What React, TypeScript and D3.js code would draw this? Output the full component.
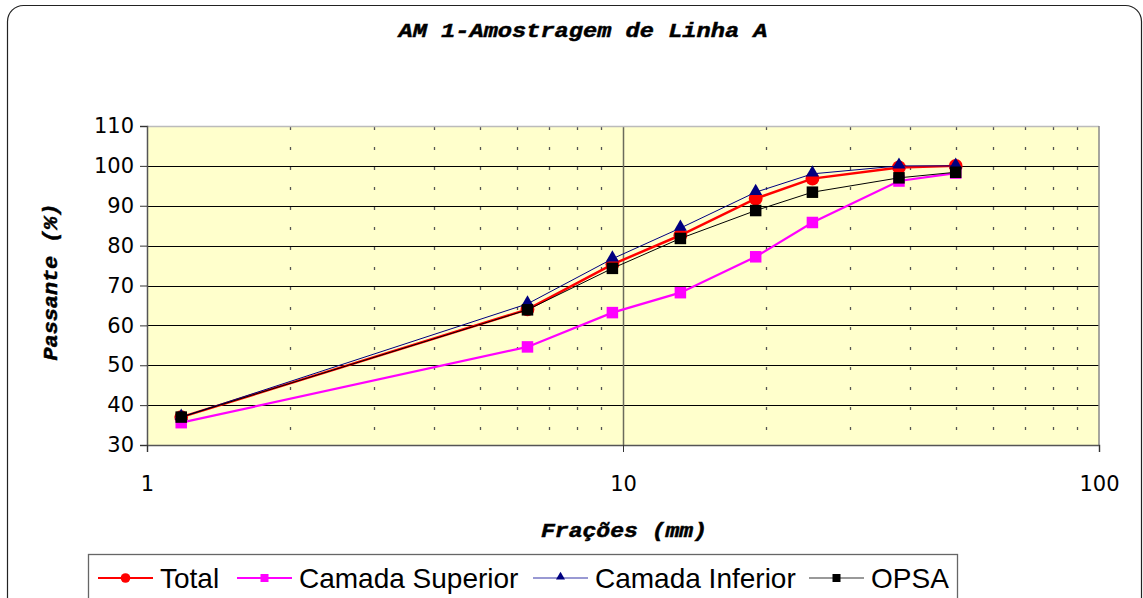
import { useEffect, useRef } from "react";
import * as d3 from "d3";

// Aberturas das peneiras (mm)
const sizes = [1.18, 6.3, 9.5, 13.2, 19, 25, 38, 50];

const total = [37, 64, 75.3, 82.6, 91.8, 96.8, 99.6, 100];
const superior = [35.6, 54.6, 63.2, 68.2, 77.2, 85.8, 96.2, 98.2];
const inferior = [37, 65.4, 76.7, 84.4, 93.4, 98, 100, 100];
const opsa = [37, 63.9, 74.3, 81.8, 88.8, 93.4, 97, 98.4];

const seriesNames = ["Total", "Camada Superior", "Camada Inferior", "OPSA"];
const yTicks = [30, 40, 50, 60, 70, 80, 90, 100, 110];
const xTicks = [1, 10, 100];
const minorTicks = [2, 3, 4, 5, 6, 7, 8, 9, 20, 30, 40, 50, 60, 70, 80, 90];

const W = 1143;
const H = 598;

export default function App() {
  const svgRef = useRef<SVGSVGElement | null>(null);

  useEffect(() => {
    const svg = d3.select(svgRef.current);
    svg.selectAll("*").remove();

    const x = d3.scaleLog().domain([1, 100]).range([147, 1099]);
    const y = d3.scaleLinear().domain([30, 110]).range([445, 126]);

    const sans = "'Liberation Sans', Arial, sans-serif";
    const tickFont = "'DejaVu Sans', Verdana, sans-serif";
    const mono = "'Liberation Mono', 'Courier New', monospace";

    svg.append("rect").attr("width", W).attr("height", H).attr("fill", "#fff");

    // moldura arredondada
    svg
      .append("rect")
      .attr("x", 7.5)
      .attr("y", 5.5)
      .attr("width", 1134)
      .attr("height", 620)
      .attr("rx", 16)
      .attr("fill", "none")
      .attr("stroke", "#222")
      .attr("stroke-width", 1.2);

    // título
    svg
      .append("text")
      .attr("x", 583)
      .attr("y", 37)
      .attr("text-anchor", "middle")
      .attr("font-family", mono)
      .attr("font-weight", "bold")
      .attr("font-style", "italic")
      .attr("font-size", 21)
      .attr("stroke", "#000")
      .attr("stroke-width", 0.5)
      .attr("textLength", 369)
      .attr("lengthAdjust", "spacingAndGlyphs")
      .text("AM 1-Amostragem de Linha A");

    // área do gráfico
    svg
      .append("rect")
      .attr("x", x(1))
      .attr("y", y(110))
      .attr("width", x(100) - x(1))
      .attr("height", y(30) - y(110))
      .attr("fill", "#FFFFCC");

    // grade secundária pontilhada
    svg
      .append("g")
      .selectAll("line")
      .data(minorTicks)
      .enter()
      .append("line")
      .attr("x1", (d) => Math.round(x(d)) + 0.5)
      .attr("x2", (d) => Math.round(x(d)) + 0.5)
      .attr("y1", y(110))
      .attr("y2", y(30))
      .attr("stroke", "#555")
      .attr("stroke-width", 1.3)
      .attr("stroke-dasharray", "3 17")
      .attr("stroke-dashoffset", -1);

    // linhas horizontais
    svg
      .append("g")
      .selectAll("line")
      .data(yTicks.filter((d) => d > 30 && d < 110))
      .enter()
      .append("line")
      .attr("x1", x(1))
      .attr("x2", x(100))
      .attr("y1", (d) => Math.round(y(d)) + 0.5)
      .attr("y2", (d) => Math.round(y(d)) + 0.5)
      .attr("stroke", "#000")
      .attr("stroke-width", 1);

    // grade principal vertical em 10
    svg
      .append("line")
      .attr("x1", Math.round(x(10)) + 0.5)
      .attr("x2", Math.round(x(10)) + 0.5)
      .attr("y1", y(110))
      .attr("y2", y(30))
      .attr("stroke", "#6b6b5b")
      .attr("stroke-width", 1.5);

    // bordas
    svg
      .append("line")
      .attr("x1", x(1))
      .attr("x2", x(100))
      .attr("y1", y(110) + 0.5)
      .attr("y2", y(110) + 0.5)
      .attr("stroke", "#bbb")
      .attr("stroke-width", 1.5);
    svg
      .append("line")
      .attr("x1", x(100))
      .attr("x2", x(100))
      .attr("y1", y(110))
      .attr("y2", y(30))
      .attr("stroke", "#888")
      .attr("stroke-width", 1.5);

    // eixo Y
    const yAxis = svg
      .append("g")
      .attr("transform", `translate(${x(1)},0)`)
      .call(d3.axisLeft(y).tickValues(yTicks).tickSize(7).tickPadding(6));
    yAxis.select(".domain").attr("stroke", "#555").attr("stroke-width", 1.5);
    yAxis.selectAll(".tick line").attr("stroke", "#333");
    yAxis
      .selectAll("text")
      .attr("font-family", tickFont)
      .attr("font-size", 21)
      .attr("fill", "#000");

    // eixo X
    const xAxis = svg
      .append("g")
      .attr("transform", `translate(0,${y(30)})`)
      .call(
        d3
          .axisBottom(x)
          .tickValues(xTicks)
          .tickFormat(d3.format("d"))
          .tickSize(7)
          .tickPadding(24)
      );
    xAxis.select(".domain").attr("stroke", "#555").attr("stroke-width", 1.5);
    xAxis.selectAll(".tick line").attr("stroke", "#333");
    xAxis
      .selectAll("text")
      .attr("font-family", tickFont)
      .attr("font-size", 21)
      .attr("fill", "#000");

    // títulos dos eixos
    svg
      .append("text")
      .attr("x", 624)
      .attr("y", 537)
      .attr("text-anchor", "middle")
      .attr("font-family", mono)
      .attr("font-weight", "bold")
      .attr("font-style", "italic")
      .attr("font-size", 20)
      .attr("stroke", "#000")
      .attr("stroke-width", 0.5)
      .attr("textLength", 166)
      .attr("lengthAdjust", "spacingAndGlyphs")
      .text("Frações (mm)");

    svg
      .append("text")
      .attr("transform", "translate(57,282) rotate(-90)")
      .attr("text-anchor", "middle")
      .attr("font-family", mono)
      .attr("font-weight", "bold")
      .attr("font-style", "italic")
      .attr("font-size", 20)
      .attr("stroke", "#000")
      .attr("stroke-width", 0.5)
      .attr("textLength", 157)
      .attr("lengthAdjust", "spacingAndGlyphs")
      .text("Passante (%)");

    // séries
    const series = [
      { name: seriesNames[0], values: total, color: "#FF0000", width: 2.5, marker: "circle", mColor: "#FF0000", lColor: "#FF0000" },
      { name: seriesNames[1], values: superior, color: "#FF00FF", width: 2.2, marker: "square", mColor: "#FF00FF", lColor: "#FF00FF" },
      { name: seriesNames[2], values: inferior, color: "#000080", width: 1, marker: "triangle", mColor: "#000080", lColor: "#7777c4" },
      { name: seriesNames[3], values: opsa, color: "#000000", width: 1, marker: "square", mColor: "#000000", lColor: "#777" },
    ];

    const line = d3
      .line<number>()
      .x((_, i) => x(sizes[i]))
      .y((d) => y(d));

    const drawMarker = (
      g: any,
      type: string,
      color: string,
      cx: number,
      cy: number,
      s: number
    ) => {
      if (type === "circle") {
        g.append("circle").attr("cx", cx).attr("cy", cy).attr("r", s * 0.6).attr("fill", color);
      } else if (type === "square") {
        g.append("rect")
          .attr("x", cx - s / 2)
          .attr("y", cy - s / 2)
          .attr("width", s)
          .attr("height", s)
          .attr("fill", color);
      } else {
        const sym = d3.symbol().type(d3.symbolTriangle).size(s * s * 0.55);
        g.append("path")
          .attr("transform", `translate(${cx},${cy - 1})`)
          .attr("d", sym() as string)
          .attr("fill", color);
      }
    };

    series.forEach((s) => {
      const g = svg.append("g");
      g.append("path")
        .attr("d", line(s.values) as string)
        .attr("fill", "none")
        .attr("stroke", s.color)
        .attr("stroke-width", s.width);
      s.values.forEach((v, i) => {
        drawMarker(g, s.marker, s.mColor, x(sizes[i]), y(v), 11.5);
      });
    });

    // legenda
    const leg = svg.append("g");
    leg
      .append("rect")
      .attr("x", 88.5)
      .attr("y", 554.5)
      .attr("width", 869)
      .attr("height", 60)
      .attr("fill", "#fff")
      .attr("stroke", "#666")
      .attr("stroke-width", 1.3);

    const legX = [98, 237, 533, 809];
    series.forEach((s, i) => {
      const lx = legX[i];
      leg
        .append("line")
        .attr("x1", lx)
        .attr("x2", lx + 55)
        .attr("y1", 578)
        .attr("y2", 578)
        .attr("stroke", s.lColor)
        .attr("stroke-width", s.width > 2 ? 2 : 1.5);
      drawMarker(leg, s.marker, s.mColor, lx + 27.5, 578, 8);
      leg
        .append("text")
        .attr("x", lx + 62)
        .attr("y", 588)
        .attr("font-family", sans)
        .attr("font-size", 28)
        .attr("fill", "#000")
        .text(s.name);
    });
  }, []);

  return (
    <svg
      ref={svgRef}
      width={W}
      height={H}
      style={{ position: "absolute", left: 0, top: 0, display: "block" }}
    />
  );
}
